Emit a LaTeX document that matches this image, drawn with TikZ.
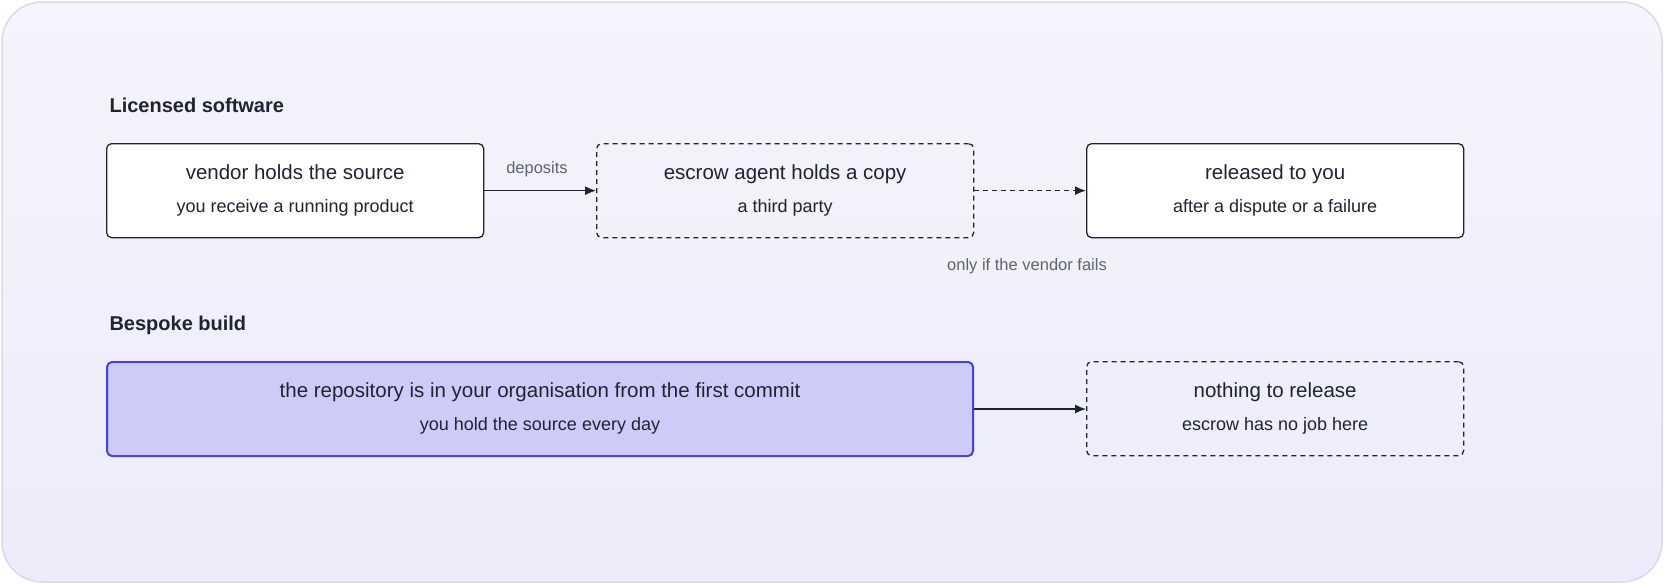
\documentclass[tikz,border=0pt]{standalone}
\usepackage{fontspec}
\setmainfont{Liberation Sans}
\usetikzlibrary{arrows.meta}
\definecolor{ink}{HTML}{1F2433}
\definecolor{muted}{HTML}{5F6474}
\definecolor{bgA}{HTML}{F5F4FD}
\definecolor{bgB}{HTML}{ECEBF9}
\definecolor{bgline}{HTML}{D9D8F1}
\definecolor{hifill}{HTML}{CDCBF8}
\definecolor{hiline}{HTML}{4A3FDF}
\tikzset{
  box/.style={draw=ink,line width=1.3pt,rounded corners=5pt,fill=white,minimum width=377pt,minimum height=94pt,align=center,anchor=north west,inner sep=0pt},
  dbox/.style={box,dashed,dash pattern=on 5pt off 4pt,fill=none},
  hbox/.style={box,draw=hiline,line width=2pt,fill=hifill,minimum width=866pt},
  head/.style={anchor=west,font=\fontsize{20}{24}\selectfont\bfseries,text=ink},
  lab/.style={font=\fontsize{16.5}{20}\selectfont,text=muted},
  arr/.style={-{Latex[length=11pt,width=9pt]},draw=ink,line width=1.3pt},
}
\newcommand{\bt}[2]{{\fontsize{20.5}{24}\selectfont\strut #1}\\[10pt]{\fontsize{18}{21}\selectfont\strut #2}}
\begin{document}
\begin{tikzpicture}[x=1pt,y=-1pt,text=ink]
\useasboundingbox (0,0) rectangle (1664,584);
\shade[top color=bgA,bottom color=bgB,draw=bgline,line width=1.5pt,rounded corners=40pt] (2,2) rectangle (1662,582);
\node[head] (h1) at (106,105) {Licensed software};
\node[head] (h2) at (106,325) {Bespoke build};
\node[box] (a) at (106,143) {\bt{vendor holds the source}{you receive a running product}};
\node[dbox] (b) at (596,143) {\bt{escrow agent holds a copy}{a third party}};
\node[box] (c) at (1086,143) {\bt{released to you}{after a dispute or a failure}};
\node[hbox] (d) at (106,361) {\bt{the repository is in your organisation from the first commit}{you hold the source every day}};
\node[dbox] (e) at (1086,361) {\bt{nothing to release}{escrow has no job here}};
\draw[arr] (a.east) -- (b.west);
\draw[arr,dashed,dash pattern=on 5pt off 4pt] (b.east) -- (c.west);
\draw[arr] (d.east) -- (d.east -| e.west);
\node[lab] (l1) at (537,169) {deposits};
\node[lab] (l2) at (1027,266) {only if the vendor fails};
\end{tikzpicture}
\end{document}
